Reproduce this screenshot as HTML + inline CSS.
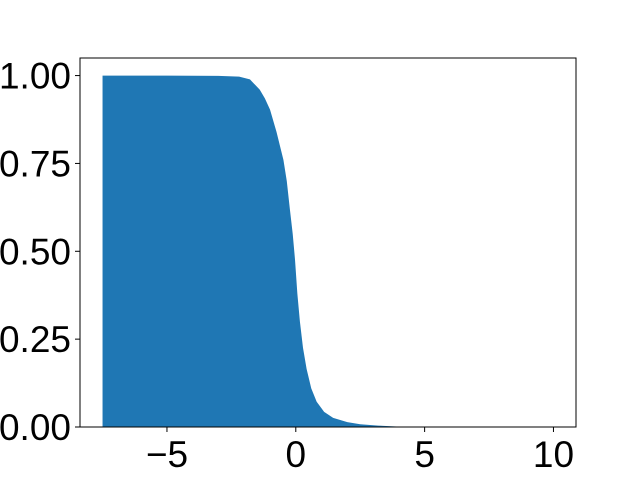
<!DOCTYPE html>
<html><head><meta charset="utf-8"><style>
body{margin:0;background:#fff;}
svg{display:block;font-family:"Liberation Sans","DejaVu Sans",sans-serif;}
</style></head><body>
<svg id="chart" width="640" height="480"></svg>
<script>
const xs=[-7.5,-5,-3,-2.2,-1.78,-1.4,-1.2,-1.0,-0.75,-0.48,-0.35,-0.23,-0.12,-0.03,0.06,0.16,0.28,0.42,0.6,0.81,1.1,1.45,2.0,2.5,3.2,4.0,6,10];
const ys=[1.0,1.0,0.999,0.997,0.989,0.96,0.935,0.903,0.84,0.76,0.70,0.62,0.55,0.476,0.38,0.30,0.225,0.165,0.11,0.072,0.043,0.026,0.014,0.008,0.004,0.001,0,0];
const xTicks=[-5,0,5,10];
const xTickLabels=["\u22125","0","5","10"];
const yTicks=[0,0.25,0.5,0.75,1.0];
const yTickLabels=["0.00","0.25","0.50","0.75","1.00"];
const L=80,R=576,T=58,B=427;
const xmin=-8.375,xmax=10.875,ymin=0,ymax=1.05;
const sx=v=>L+(v-xmin)/(xmax-xmin)*(R-L);
const sy=v=>B-(v-ymin)/(ymax-ymin)*(B-T);
const NS="http://www.w3.org/2000/svg";
const svg=document.getElementById('chart');
function mk(t,a){const e=document.createElementNS(NS,t);for(const k in a)e.setAttribute(k,a[k]);svg.appendChild(e);return e;}
let d="M"+sx(xs[0])+","+sy(0);
for(let i=0;i<xs.length;i++)d+=" L"+sx(xs[i])+","+sy(ys[i]);
d+=" L"+sx(xs[xs.length-1])+","+sy(0)+" Z";
const area=mk('path',{d:d,fill:'#1f77b4'});


const frame=mk('rect',{x:L,y:T,width:R-L,height:B-T,fill:'none',stroke:'#000','stroke-width':1});


xTicks.forEach((v,i)=>{
  const x=sx(v);
  const tk=mk('line',{x1:x,x2:x,y1:B,y2:B+5,stroke:'#000'});
  
  
  const t=mk('text',{x:x,y:B+40,'text-anchor':'middle','font-size':37});
  t.textContent=xTickLabels[i];
  
  
});
yTicks.forEach((v,i)=>{
  const y=sy(v);
  const tk=mk('line',{x1:L-5,x2:L,y1:y,y2:y,stroke:'#000'});
  
  
  const t=mk('text',{x:L-9,y:y+13,'text-anchor':'end','font-size':37});
  t.textContent=yTickLabels[i];
  
  
});
</script>
</body></html>
